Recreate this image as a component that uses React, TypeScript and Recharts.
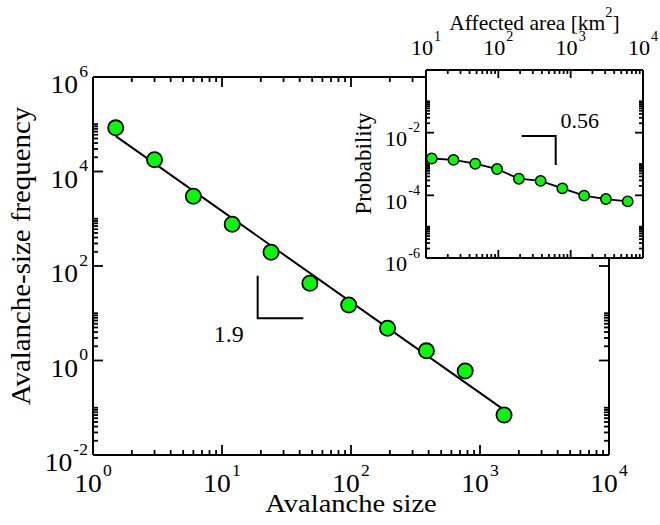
import React from 'react';
import { ComposedChart, XAxis, YAxis, Scatter, CartesianGrid } from 'recharts';

// ---------- data ----------
const avalancheSize = [1.5, 3, 6, 12, 24, 48, 96, 192, 384, 768, 1536];
const avalancheFreq = [8.4e4, 1.78e4, 3.0e3, 766, 196, 43, 15, 4.8, 1.6, 0.6, 0.07];
const fitSize = [1.5, 1536];
const fitFreq = [5.6e4, 0.09];
const mainSlopeX = [18.9, 18.9, 42.7];
const mainSlopeY = [62.4, 7.8, 7.8];
const mainSlopeLabel = '1.9';
const mainSlopeLabelPos = { x: 11.3, y: 2.52 };

const affectedArea = [12, 24, 48, 96, 192, 384, 768, 1536, 3072, 6144];
const probability = [1.5e-3, 1.35e-3, 1.02e-3, 6.9e-4, 3.4e-4, 2.9e-4, 1.67e-4, 9.8e-5, 7.6e-5, 6.4e-5];
const insetSlopeX = [210, 621, 621];
const insetSlopeY = [7.8e-3, 7.8e-3, 9.3e-4];
const insetSlopeLabel = '0.56';
const insetSlopeLabelPos = { x: 1334, y: 0.0138 };

const mainXMajor = [1, 10, 100, 1000, 10000];
const mainYMajor = [1e-2, 1, 1e2, 1e4, 1e6];
const insetXMajor = [10, 100, 1000, 10000];
const insetYMajor = [1e-6, 1e-4, 1e-2, 1];
const insetYLabeled = [1e-6, 1e-4, 1e-2];

const mainXTitle = 'Avalanche size';
const mainYTitle = 'Avalanche-size frequency';
const insetXTitle = 'Affected area [km';
const insetYTitle = 'Probability';

// ---------- helpers ----------
const FONT = "'Liberation Serif', 'DejaVu Serif', 'Times New Roman', serif";
const zip = (xs: number[], ys: number[]) => xs.map((x, i) => ({ x, y: ys[i] }));
const mainPts = zip(avalancheSize, avalancheFreq);
const fitPts = zip(fitSize, fitFreq);
const mainSlopePts = zip(mainSlopeX, mainSlopeY);
const insetPts = zip(affectedArea, probability);
const insetSlopePts = zip(insetSlopeX, insetSlopeY);

const minorsBetween = (majors: number[], ks: number[]) => {
  const out: number[] = [];
  for (let i = 0; i < majors.length - 1; i++) for (const k of ks) out.push(majors[i] * k);
  return out;
};
const K9 = [2, 3, 4, 5, 6, 7, 8, 9];
const K10 = [2, 3, 4, 5, 6, 7, 8, 9, 10];
const mainXTicks = [...mainXMajor, ...minorsBetween(mainXMajor, K9)];
const mainYTicks = [...mainYMajor, ...minorsBetween(mainYMajor, K10)];
const insetXTicks = [...insetXMajor, ...minorsBetween(insetXMajor, K9)];
const insetYTicks = [...insetYMajor, ...minorsBetween(insetYMajor, K10)];

const inList = (v: number, list: number[]) =>
  list.some((m) => Math.abs(Math.log10(v) - Math.log10(m)) < 1e-6);

const Pow = ({ x, y, exp, size, sx, anchor }: any) => (
  <text
    transform={`translate(${x},${y}) scale(${sx},1)`}
    fontSize={size}
    fontFamily={FONT}
    textAnchor={anchor}
    fill="#000"
  >
    10
    <tspan dx={1} dy={-0.64 * size} fontSize={0.64 * size}>
      {exp}
    </tspan>
  </text>
);

const makeTick = (
  side: 'bottom' | 'top' | 'left' | 'right',
  majors: number[],
  labeled: number[],
  majLen: number,
  minLen: number,
  label: null | { size: number; sx: number; off: number; base: number }
) => (props: any) => {
  const { x, y, payload } = props;
  const v = payload.value;
  const maj = inList(v, majors);
  const len = maj ? majLen : minLen;
  let line;
  if (side === 'bottom') line = <line x1={x} x2={x} y1={y} y2={y - len} />;
  else if (side === 'top') line = <line x1={x} x2={x} y1={y} y2={y + len} />;
  else if (side === 'left') line = <line x1={x} x2={x + len} y1={y} y2={y} />;
  else line = <line x1={x} x2={x - len} y1={y} y2={y} />;
  const exp = Math.round(Math.log10(v));
  let text = null;
  if (label && inList(v, labeled)) {
    if (side === 'bottom')
      text = <Pow x={x} y={y + label.base} exp={exp} size={label.size} sx={label.sx} anchor="middle" />;
    else if (side === 'top')
      text = <Pow x={x} y={y - label.base} exp={exp} size={label.size} sx={label.sx} anchor="middle" />;
    else if (side === 'left')
      text = <Pow x={x - label.off} y={y + label.base} exp={exp} size={label.size} sx={label.sx} anchor="end" />;
  }
  return (
    <g>
      <g stroke="#000" strokeWidth={1.8}>{line}</g>
      {text}
    </g>
  );
};

const Dot = (r: number, sw: number) => (p: any) => (
  <circle cx={p.cx} cy={p.cy} r={r} fill="#00ff00" stroke="#000" strokeWidth={sw} />
);
const NoShape = () => <g />;
const TextShape = (txt: string, size: number) => (p: any) => (
  <text x={p.cx} y={p.cy} fontSize={size} fontFamily={FONT} textAnchor="middle" fill="#000">
    {txt}
  </text>
);

const AX = { stroke: '#000', strokeWidth: 2 };

const MainXTitle = () => (
  <text transform="translate(351,512) scale(1.12,1)" fontSize={25.5} fontFamily={FONT} textAnchor="middle" fill="#000">
    {mainXTitle}
  </text>
);
const MainYTitle = () => (
  <text transform="translate(30,256) rotate(-90) scale(1.07,1)" fontSize={27} fontFamily={FONT} textAnchor="middle" fill="#000">
    {mainYTitle}
  </text>
);
const InsetXTitle = () => (
  <text transform="translate(534.5,30)" fontSize={21.5} fontFamily={FONT} textAnchor="middle" fill="#000">
    {insetXTitle}
    <tspan dy={-0.62 * 21.5} fontSize={14.5}>2</tspan>
    <tspan dy={0.62 * 21.5}>]</tspan>
  </text>
);
const InsetYTitle = () => (
  <text transform="translate(371,163.5) rotate(-90)" fontSize={23} fontFamily={FONT} textAnchor="middle" fill="#000">
    {insetYTitle}
  </text>
);

const axisCommon = {
  type: 'number' as const,
  scale: 'log' as const,
  allowDataOverflow: true,
  interval: 0 as const,
  tickSize: 0,
  tickMargin: 0,
  tickLine: false,
  axisLine: AX,
};

export default function App() {
  const mainLabel = { size: 25.5, sx: 1.08, off: 5, base: 37 };
  const mainYLabel = { size: 25.5, sx: 1.08, off: 5, base: 16 };
  const insetXLabel = { size: 21.5, sx: 1.03, off: 0, base: 15 };
  const insetYLabel = { size: 21.5, sx: 1.03, off: 6, base: 13.3 };
  return (
    <div style={{ position: 'absolute', left: 0, top: 0, width: 660, height: 525, background: '#fff' }}>
      <div style={{ position: 'absolute', left: 0, top: 0 }}>
        <ComposedChart width={660} height={525} margin={{ top: 76, left: 92, right: 50, bottom: 69 }}>
          <XAxis
            {...axisCommon} xAxisId="b" orientation="bottom" dataKey="x" domain={[1, 10000]}
            ticks={mainXTicks} height={1} tick={makeTick('bottom', mainXMajor, mainXMajor, 10, 5, mainLabel)}
            label={<MainXTitle />}
          />
          <XAxis
            {...axisCommon} xAxisId="t" orientation="top" dataKey="x" domain={[1, 10000]}
            ticks={mainXTicks} height={1} tick={makeTick('top', mainXMajor, [], 10, 5, null)}
          />
          <YAxis
            {...axisCommon} yAxisId="l" orientation="left" dataKey="y" domain={[1e-2, 1e6]}
            ticks={mainYTicks} width={1} tick={makeTick('left', mainYMajor, mainYMajor, 10, 5, mainYLabel)}
            label={<MainYTitle />}
          />
          <YAxis
            {...axisCommon} yAxisId="r" orientation="right" dataKey="y" domain={[1e-2, 1e6]}
            ticks={mainYTicks} width={1} tick={makeTick('right', mainYMajor, [], 10, 5, null)}
          />
          <Scatter xAxisId="b" yAxisId="l" data={fitPts} line={{ stroke: '#000', strokeWidth: 2 }} shape={NoShape} isAnimationActive={false} />
          <Scatter xAxisId="b" yAxisId="l" data={mainSlopePts} line={{ stroke: '#000', strokeWidth: 2 }} shape={NoShape} isAnimationActive={false} />
          <Scatter xAxisId="b" yAxisId="l" data={[mainSlopeLabelPos]} shape={TextShape(mainSlopeLabel, 24)} isAnimationActive={false} />
          <Scatter xAxisId="b" yAxisId="l" data={mainPts} shape={Dot(7.6, 1.8)} isAnimationActive={false} />
        </ComposedChart>
      </div>
      <div style={{ position: 'absolute', left: 0, top: 0 }}>
        <ComposedChart width={660} height={525} margin={{ top: 69, left: 425, right: 16, bottom: 266 }}>
          <CartesianGrid xAxisId="b" yAxisId="l" horizontal={false} vertical={false} fill="#fff" fillOpacity={1} stroke="none" />
          <XAxis
            {...axisCommon} xAxisId="b" orientation="bottom" dataKey="x" domain={[10, 10000]}
            ticks={insetXTicks} height={1} tick={makeTick('bottom', insetXMajor, [], 8, 4, null)}
          />
          <XAxis
            {...axisCommon} xAxisId="t" orientation="top" dataKey="x" domain={[10, 10000]}
            ticks={insetXTicks} height={1} tick={makeTick('top', insetXMajor, insetXMajor, 8, 4, insetXLabel)}
            label={<InsetXTitle />}
          />
          <YAxis
            {...axisCommon} yAxisId="l" orientation="left" dataKey="y" domain={[1e-6, 1]}
            ticks={insetYTicks} width={1} tick={makeTick('left', insetYMajor, insetYLabeled, 8, 4, insetYLabel)}
            label={<InsetYTitle />}
          />
          <YAxis
            {...axisCommon} yAxisId="r" orientation="right" dataKey="y" domain={[1e-6, 1]}
            ticks={insetYTicks} width={1} tick={makeTick('right', insetYMajor, [], 8, 4, null)}
          />
          <Scatter xAxisId="b" yAxisId="l" data={insetPts} line={{ stroke: '#000', strokeWidth: 1.8 }} shape={NoShape} isAnimationActive={false} />
          <Scatter xAxisId="b" yAxisId="l" data={insetSlopePts} line={{ stroke: '#000', strokeWidth: 2 }} shape={NoShape} isAnimationActive={false} />
          <Scatter xAxisId="b" yAxisId="l" data={[insetSlopeLabelPos]} shape={TextShape(insetSlopeLabel, 22)} isAnimationActive={false} />
          <Scatter xAxisId="b" yAxisId="l" data={insetPts} shape={Dot(5.2, 1.5)} isAnimationActive={false} />
        </ComposedChart>
      </div>
    </div>
  );
}
